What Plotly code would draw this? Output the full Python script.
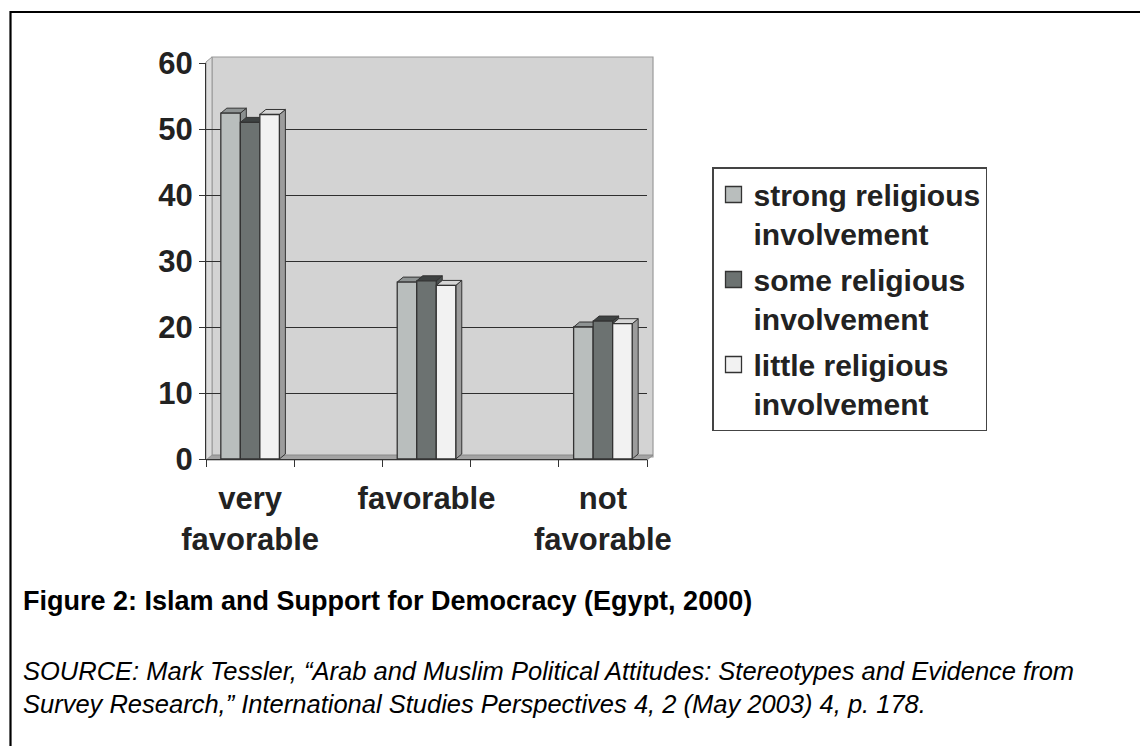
import plotly.graph_objects as go

# ---------------- data ----------------
categories = ["very<br>favorable", "favorable", "not<br>favorable"]
series_names = [
    "strong religious<br>involvement",
    "some religious<br>involvement",
    "little religious<br>involvement",
]
strong_vals = [52.4, 26.8, 20.0]
some_vals = [51.0, 27.0, 20.9]
little_vals = [52.2, 26.3, 20.5]
y_ticks = [0, 10, 20, 30, 40, 50, 60]
y_grid = [10, 20, 30, 40, 50]

# ---------------- style ----------------
OFF = 8                      # default page margin of the html body
W, H = 1140, 738
ML, MT = 206 - OFF, 63 - OFF
PW, PH = 441, 396
MR = W - ML - PW
MB = H - MT - PH
FONT = "Liberation Sans, Arial, Helvetica, sans-serif"
front_colors = ["#b9bebd", "#6c7271", "#f2f2f2"]
top_colors = ["#8e9393", "#3e4242", "#d6d6d6"]
side_colors = ["#8a8f8f", "#4a4f4f", "#9c9c9c"]
edge = "#333333"


def px2x(px):
    """page pixel x -> paper coordinate"""
    return (px - OFF - ML) / PW


def py2y(py):
    """page pixel y -> paper coordinate"""
    return (H - MB - (py - OFF)) / PH


x_idx = list(range(len(categories)))
bargap = 0.668
bw = (1 - bargap) / 3
# 3-D depth of the bars (data units)
DX = 6 / (PW / 2.5)
DY = 5 / (PH / 60)

fig = go.Figure()
all_vals = [strong_vals, some_vals, little_vals]
for name, vals, col in zip(series_names, all_vals, front_colors):
    fig.add_trace(go.Bar(
        x=x_idx, y=vals, name=name, legendgroup=name, showlegend=False,
        marker=dict(color=col, line=dict(color=edge, width=1.3)),
    ))
# legend keys (larger square swatches)
for name, col in zip(series_names, front_colors):
    fig.add_trace(go.Scatter(
        x=[None], y=[None], mode="markers", name=name, legendgroup=name,
        marker=dict(symbol="square", size=18, color=col, line=dict(color=edge, width=1.3)),
    ))

shapes = []
# back wall, floor and side wall of the 3-D box (pixel-space decoration)
shapes.append(dict(type="rect", xref="paper", yref="paper", layer="below",
                   x0=px2x(212), x1=px2x(653), y0=py2y(457), y1=py2y(57),
                   fillcolor="#d3d3d3", line=dict(color="#9a9a9a", width=1.2)))
shapes.append(dict(type="path", xref="paper", yref="paper", layer="below",
                   path=f"M{px2x(206)},{py2y(460)} L{px2x(647)},{py2y(460)} "
                        f"L{px2x(653)},{py2y(455)} L{px2x(212)},{py2y(455)} Z",
                   fillcolor="#a3a3a3", line=dict(color="#8a8a8a", width=1)))
shapes.append(dict(type="path", xref="paper", yref="paper", layer="below",
                   path=f"M{px2x(206)},{py2y(460)} L{px2x(212)},{py2y(455)} "
                        f"L{px2x(212)},{py2y(57)} L{px2x(206)},{py2y(62)} Z",
                   fillcolor="#dcdcdc", line=dict(color="#9a9a9a", width=1)))

# 3-D side and top faces of every bar, computed from the values
for i in x_idx:
    for j, vals in enumerate(all_vals):
        v = vals[i]
        x0 = i - 1.5 * bw + j * bw
        x1 = x0 + bw
        shapes.append(dict(type="path", xref="x", yref="y", layer="between",
                           path=f"M{x1},0 L{x1},{v} L{x1+DX},{v+DY} L{x1+DX},{DY} Z",
                           fillcolor=side_colors[j], line=dict(color=edge, width=1)))
        shapes.append(dict(type="path", xref="x", yref="y", layer="between",
                           path=f"M{x0},{v} L{x1},{v} L{x1+DX},{v+DY} L{x0+DX},{v+DY} Z",
                           fillcolor=top_colors[j], line=dict(color=edge, width=1)))

# outer frame of the figure (left and top edges visible)
shapes.append(dict(type="rect", xref="paper", yref="paper", layer="above",
                   x0=px2x(10.5), x1=px2x(1300), y0=py2y(900), y1=py2y(12),
                   fillcolor="rgba(0,0,0,0)", line=dict(color="#000000", width=2.2)))

annotations = [
    dict(xref="paper", yref="paper", x=px2x(21), y=py2y(601), xanchor="left", yanchor="middle",
         text="<b>Figure 2: Islam and Support for Democracy (Egypt, 2000)</b>",
         showarrow=False, font=dict(family=FONT, size=27, color="#000000", weight="bold")),
    dict(xref="paper", yref="paper", x=px2x(21), y=py2y(687), xanchor="left", yanchor="middle",
         text="<i>SOURCE: Mark Tessler, “Arab and Muslim Political Attitudes: Stereotypes and Evidence from"
              "<br>Survey Research,” International Studies Perspectives 4, 2 (May 2003) 4, p. 178.</i>",
         align="left", showarrow=False,
         font=dict(family=FONT, size=25.5, color="#000000", weight="normal")),
]

fig.update_layout(
    width=W, height=H, autosize=False,
    margin=dict(l=ML, r=MR, t=MT, b=MB, pad=0),
    paper_bgcolor="#ffffff", plot_bgcolor="#d3d3d3",
    barmode="group", bargap=bargap, bargroupgap=0,
    font=dict(family=FONT, size=30, color="#222222", weight="bold"),
    showlegend=True,
    legend=dict(x=px2x(712), y=py2y(167), xanchor="left", yanchor="top",
                bgcolor="#ffffff", bordercolor="#444444", borderwidth=1.5,
                font=dict(family=FONT, size=30, color="#222222", weight="bold"),
                valign="top", tracegroupgap=4, traceorder="grouped",
                itemsizing="trace"),
    shapes=shapes,
    annotations=annotations,
)
fig.update_xaxes(
    range=[-0.25, 2.25], tickmode="array", tickvals=x_idx, ticktext=categories,
    ticks="", showgrid=False, zeroline=False,
    showline=True, linecolor="#333333", linewidth=1.3,
    ticklabelstandoff=12,
    tickfont=dict(family=FONT, size=31, color="#222222", weight="bold"),
    minor=dict(tickmode="array", tickvals=[-0.25, 0.25, 0.75, 1.25, 1.75, 2.25],
               ticks="outside", ticklen=7, tickcolor="#333333", tickwidth=1.3, showgrid=False),
)
fig.update_yaxes(
    range=[0, 60], tickmode="array", tickvals=y_ticks,
    ticks="outside", ticklen=6, tickcolor="#333333", tickwidth=1.3,
    showgrid=False, zeroline=False,
    showline=True, linecolor="#333333", linewidth=1.3,
    tickfont=dict(family=FONT, size=31, color="#222222", weight="bold"),
    minor=dict(tickmode="array", tickvals=y_grid, ticks="",
               showgrid=True, gridcolor="#2e2e2e", gridwidth=1.3),
)

fig.write_html("out.html")
